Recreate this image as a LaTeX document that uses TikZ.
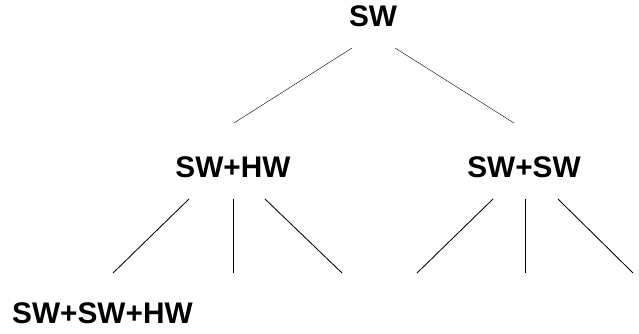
\documentclass[tikz,border=0pt]{standalone}
\usepackage{fontspec}
\setmainfont{Liberation Sans}
\begin{document}
\begin{tikzpicture}[
    x=1pt, y=-1pt,
    lbl/.style={font=\fontsize{29.8}{30}\selectfont\bfseries, inner sep=0pt},
    branch/.style={draw=black, line width=0.85pt},
]
    \useasboundingbox (0,0) rectangle (639,334);

    %%%
    % Labels of the tree
    \node[lbl, anchor=base] (sw) at (373,27) {SW};
    \node[lbl, anchor=base] (swhw) at (233,177) {SW+HW};
    \node[lbl, anchor=base] (swsw) at (524,177) {SW+SW};
    \node[lbl, anchor=base west] (swswhw) at (12,323) {SW+SW+HW};

    % ends of the branches
    \coordinate (sw-l) at (352,48);
    \coordinate (sw-r) at (395,48);
    \coordinate (swhw-t) at (234,123);
    \coordinate (swsw-t) at (514,123);

    \coordinate (swhw-a) at (189,199);
    \coordinate (swhw-b) at (233,199);
    \coordinate (swhw-c) at (265,199);
    \coordinate (swsw-a) at (493,199);
    \coordinate (swsw-b) at (525,199);
    \coordinate (swsw-c) at (558,199);

    \coordinate (leaf-1) at (113,273);
    \coordinate (leaf-2) at (233,273);
    \coordinate (leaf-3) at (342,273);
    \coordinate (leaf-4) at (417,273);
    \coordinate (leaf-5) at (525,273);
    \coordinate (leaf-6) at (633,273);

    {[branch]
        \draw (sw-l) -- (swhw-t);
        \draw (sw-r) -- (swsw-t);
    }
    \foreach \s/\e in {swhw-a/leaf-1, swhw-b/leaf-2, swhw-c/leaf-3,
                       swsw-a/leaf-4, swsw-b/leaf-5, swsw-c/leaf-6}
    \draw[branch] (\s) -- (\e);

\end{tikzpicture}
\end{document}
